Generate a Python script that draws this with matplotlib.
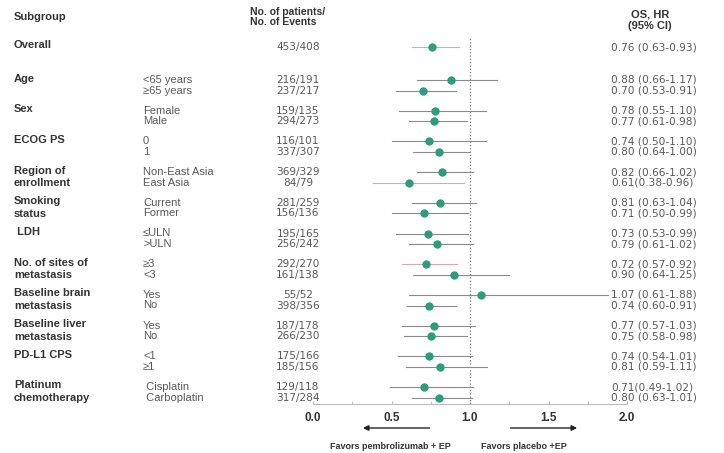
import matplotlib
matplotlib.use("Agg")
import matplotlib.pyplot as plt
from matplotlib.ticker import MultipleLocator

plt.rcParams['font.family'] = ['Liberation Sans', 'DejaVu Sans']

# subgroup data
groups = ["Overall", "Age", "Sex", "ECOG PS", "Region of\nenrollment", "Smoking\nstatus",
          " LDH", "No. of sites of\nmetastasis", "Baseline brain\nmetastasis",
          "Baseline liver\nmetastasis", "PD-L1 CPS", "Platinum\nchemotherapy"]
levels = [[""], ["<65 years", "\u226565 years"], ["Female", "Male"], ["0", "1"],
          ["Non-East Asia", "East Asia"], ["Current", "Former"], ["\u2264ULN", ">ULN"],
          ["\u22653", "<3"], ["Yes", "No"], ["Yes", "No"], ["<1", "\u22651"],
          [" Cisplatin", " Carboplatin"]]
counts = [["453/408"], ["216/191", "237/217"], ["159/135", "294/273"], ["116/101", "337/307"],
          ["369/329", "84/79"], ["281/259", "156/136"], ["195/165", "256/242"],
          ["292/270", "161/138"], ["55/52", "398/356"], ["187/178", "266/230"],
          ["175/166", "185/156"], ["129/118", "317/284"]]
hr = [[0.76], [0.88, 0.70], [0.78, 0.77], [0.74, 0.80], [0.82, 0.61], [0.81, 0.71],
      [0.73, 0.79], [0.72, 0.90], [1.07, 0.74], [0.77, 0.75], [0.74, 0.81], [0.71, 0.80]]
lo = [[0.63], [0.66, 0.53], [0.55, 0.61], [0.50, 0.64], [0.66, 0.38], [0.63, 0.50],
      [0.53, 0.61], [0.57, 0.64], [0.61, 0.60], [0.57, 0.58], [0.54, 0.59], [0.49, 0.63]]
hi = [[0.93], [1.17, 0.91], [1.10, 0.98], [1.10, 1.00], [1.02, 0.96], [1.04, 0.99],
      [0.99, 1.02], [0.92, 1.25], [1.88, 0.91], [1.03, 0.98], [1.01, 1.11], [1.02, 1.01]]
hr_text = [["0.76 (0.63-0.93)"], ["0.88 (0.66-1.17)", "0.70 (0.53-0.91)"],
           ["0.78 (0.55-1.10)", "0.77 (0.61-0.98)"], ["0.74 (0.50-1.10)", "0.80 (0.64-1.00)"],
           ["0.82 (0.66-1.02)", "0.61(0.38-0.96)"], ["0.81 (0.63-1.04)", "0.71 (0.50-0.99)"],
           ["0.73 (0.53-0.99)", "0.79 (0.61-1.02)"], ["0.72 (0.57-0.92)", "0.90 (0.64-1.25)"],
           ["1.07 (0.61-1.88)", "0.74 (0.60-0.91)"], ["0.77 (0.57-1.03)", "0.75 (0.58-0.98)"],
           ["0.74 (0.54-1.01)", "0.81 (0.59-1.11)"], ["0.71(0.49-1.02)", "0.80 (0.63-1.01)"]]

W, H = 724, 453
fig = plt.figure(figsize=(W / 100, H / 100), dpi=100)

# text layer in pixel units
bg = fig.add_axes([0, 0, 1, 1])
bg.set_xlim(0, W)
bg.set_ylim(H, 0)
bg.axis("off")

# forest panel: x = hazard ratio, y = pixel rows
ax = fig.add_axes([313 / W, (H - 404) / H, 314 / W, (404 - 38) / H])
ax.set_xlim(0, 2)
ax.set_ylim(404, 38)
ax.patch.set_alpha(0)
for s in ["top", "left", "right"]:
    ax.spines[s].set_visible(False)
ax.spines["bottom"].set_color("#bbbbbb")
ax.spines["bottom"].set_linewidth(0.8)
ax.set_yticks([])
ax.xaxis.set_major_locator(MultipleLocator(0.5))
ax.xaxis.set_minor_locator(MultipleLocator(0.25))
ax.tick_params(axis="x", which="both", direction="in", length=2, color="#bbbbbb", pad=6,
               labelsize=8.5, labelcolor="#333333")
ax.set_xticklabels(["%.1f" % v for v in ax.get_xticks()], fontweight="bold")
ax.axvline(1.0, ls=":", color="#777777", lw=0.9)

head = dict(fontsize=8, fontweight="bold", color="#333333")
bg.text(14, 17, "Subgroup", va="center", **head)
bg.text(250, 17, "No. of patients/\nNo. of Events", va="center", linespacing=1.0,
        fontsize=7.5, fontweight="bold", color="#333333")
bg.text(650, 20, "OS, HR\n(95% CI)", va="center", ha="center", linespacing=1.15, **head)

lab = dict(fontsize=8, color="#595959", va="center")
num = dict(fontsize=7.6, color="#595959", va="center", family="DejaVu Sans")
pink = {(0, 0), (4, 1), (7, 0)}
for g, name in enumerate(groups):
    y0 = 47 if g == 0 else 80 + (g - 1) * 30.7
    bg.text(14, y0 - 6.5, name, va="top", fontsize=8, fontweight="bold", color="#333333",
            linespacing=1.3)
    for k in range(len(levels[g])):
        y = y0 + k * 10.6
        bg.text(143, y, levels[g][k], **lab)
        bg.text(298, y, counts[g][k], ha="center", **num)
        bg.text(611, y, hr_text[g][k], **num)
        lc = "#d8a8ae" if (g, k) in pink else "#8a8a8a"
        ax.plot([lo[g][k], hi[g][k]], [y, y], color=lc, lw=0.8, zorder=2)
        ax.plot(hr[g][k], y, marker="o", ms=5, color="#2e9c7c", mec="#2e9c7c", zorder=3)

# direction arrows
arr = dict(arrowstyle="-|>", color="#222222", lw=1.0, mutation_scale=8)
ax.annotate("", xy=(0.30, 428), xytext=(0.76, 428), arrowprops=arr, annotation_clip=False)
ax.annotate("", xy=(1.70, 428), xytext=(1.24, 428), arrowprops=arr, annotation_clip=False)
ax.text(0.49, 446, "Favors pembrolizumab + EP", ha="center", va="center", fontsize=6.5,
        fontweight="bold", color="#333333", clip_on=False)
ax.text(1.34, 446, "Favors placebo +EP", ha="center", va="center", fontsize=6.5,
        fontweight="bold", color="#333333", clip_on=False)

fig.savefig("out.png", dpi=100, facecolor="white")
